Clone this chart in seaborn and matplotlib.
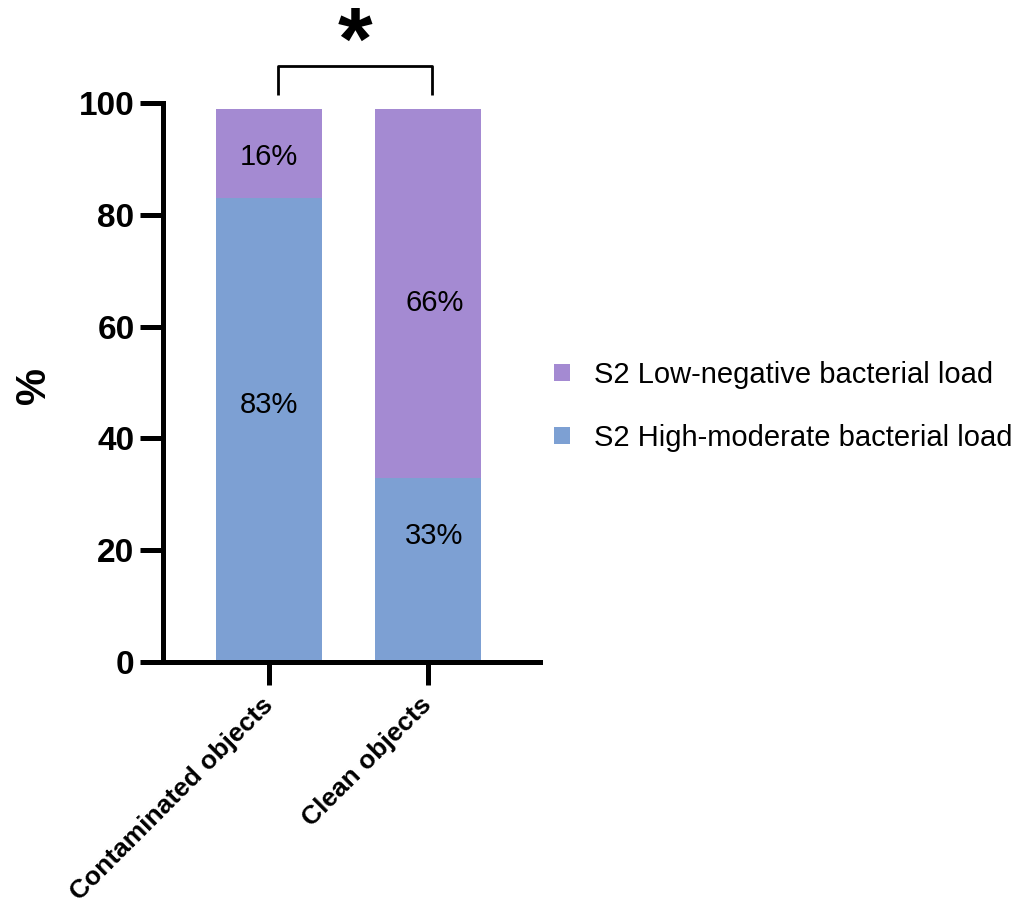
import matplotlib
matplotlib.use('Agg')
import matplotlib.pyplot as plt
import seaborn as sns
import pandas as pd

# data
categories = ['Contaminated objects', 'Clean objects']
high_moderate = [83, 33]
low_negative = [16, 66]
high_labels = ['83%', '33%']
low_labels = ['16%', '66%']
series_names = ['S2 Low-negative bacterial load', 'S2 High-moderate bacterial load']
y_ticks = [0, 20, 40, 60, 80, 100]

purple = '#A48AD2'
blue = '#7DA0D3'

sns.set_style('white')
plt.rcParams['font.family'] = ['Liberation Sans', 'DejaVu Sans']
plt.rcParams['text.color'] = 'black'
plt.rcParams['xtick.color'] = 'black'
plt.rcParams['ytick.color'] = 'black'

df = pd.DataFrame({'group': categories,
                   'high': high_moderate,
                   'low': low_negative})
df['total'] = df['high'] + df['low']

fig = plt.figure(figsize=(10.17, 9.05), dpi=100)
ax = fig.add_axes([0.1603, 0.2685, 0.3707, 0.6177])

# stacked bars: full height in purple, blue part drawn over it
sns.barplot(data=df, x='group', y='total', color=purple, width=0.67,
            saturation=1, ax=ax, label=series_names[0], linewidth=0)
sns.barplot(data=df, x='group', y='high', color=blue, width=0.67,
            saturation=1, ax=ax, label=series_names[1], linewidth=0)

# percentage labels inside the segments
high_pos = [46.0, 22.5]
low_pos = [90.3, 64.2]
x_shift = [0, 0.04]
for i in range(len(categories)):
    ax.text(i + x_shift[i], high_pos[i], high_labels[i], ha='center', va='center',
            fontsize=21, color='black')
    ax.text(i + x_shift[i], low_pos[i], low_labels[i], ha='center', va='center',
            fontsize=21, color='black')

ax.set_xlim(-0.667, 1.704)
ax.set_ylim(0, 100)
ax.set_yticks(y_ticks)
ax.set_yticklabels([str(t) for t in y_ticks], fontsize=24, fontweight='bold')
ax.set_xticks(range(len(categories)))
ax.set_xticklabels(categories, fontsize=19, fontweight='bold', rotation=45,
                   ha='right', rotation_mode='anchor', va='center')
ax.tick_params(axis='both', length=16.5, width=3.6, color='black', direction='out',
               bottom=True, left=True, labelcolor='black')
ax.tick_params(axis='y', pad=4)
ax.tick_params(axis='x', pad=12)

for side in ['top', 'right']:
    ax.spines[side].set_visible(False)
for side in ['left', 'bottom']:
    ax.spines[side].set_linewidth(3.6)
    ax.spines[side].set_color('black')

ax.set_xlabel('')
ax.set_ylabel('%', fontsize=30, fontweight='bold', color='black')
ax.yaxis.set_label_coords(-0.29, 0.494)

# significance bracket
ax.plot([0.057, 0.057, 1.025, 1.025], [101.4, 106.6, 106.6, 101.4],
        color='black', lw=2, clip_on=False, solid_capstyle='butt')
ax.text(0.54, 106.2, '*', ha='center', va='baseline', fontsize=64,
        fontweight='bold', clip_on=False, color='black')

# legend, purple first
handles, labels = ax.get_legend_handles_labels()
ax.legend(handles, labels, loc='center left', bbox_to_anchor=(0.545, 0.551),
          bbox_transform=fig.transFigure, frameon=False, fontsize=21,
          handlelength=0.55, handleheight=0.55, handletextpad=0.8,
          labelspacing=1.2, borderpad=0, borderaxespad=0)

fig.savefig('out.png', dpi=100)
